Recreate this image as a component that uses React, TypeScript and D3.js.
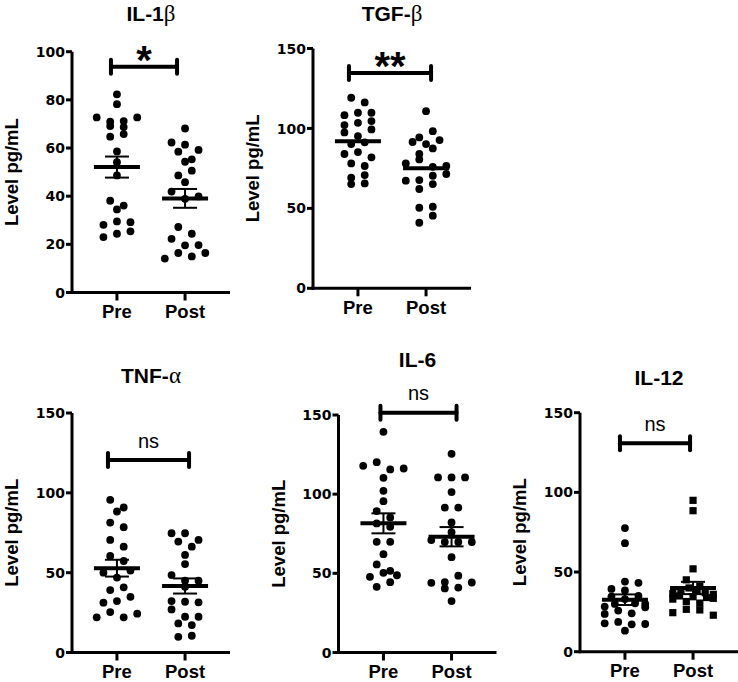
import React from 'react';
import * as d3 from 'd3';

// ---------- data ----------
const groups = ['Pre', 'Post'];

const il1bPre = [82.3, 78.2, 72.7, 70.9, 71.2, 72.7, 69.1, 64.7, 65.8, 68.7, 58.6, 54.1, 48.6, 38.1, 36.1, 34.5, 28.1, 29.5, 29.2, 23.0, 24.4, 25.4];
const il1bPost = [68.1, 62.3, 61.4, 58.5, 59.2, 54.3, 55.3, 48.6, 50.6, 45.8, 41.9, 38.9, 39.9, 27.2, 22.3, 24.4, 19.6, 19.7, 14.1, 16.4, 15.0, 16.4];

const tgfbPre = [119.2, 116.3, 108.3, 109.8, 109.8, 102.1, 103.5, 104.6, 97.5, 95.2, 99.4, 90.2, 91.3, 84.0, 85.2, 81.9, 78.1, 76.5, 69.2, 70.8, 65.2, 65.6];
const tgfbPost = [110.8, 94.4, 98.3, 91.5, 90.2, 92.7, 84.0, 87.5, 78.1, 80.6, 76.0, 76.5, 67.3, 67.7, 70.4, 71.5, 62.1, 65.2, 50.4, 51.0, 41.0, 45.4];

const tnfaPre = [95.6, 88.3, 90.8, 81.4, 78.5, 70.5, 66.3, 60.5, 57.3, 50.0, 46.9, 51.3, 39.1, 40.8, 31.2, 32.2, 34.9, 22.0, 25.3, 22.0, 24.3];
const tnfaPost = [74.7, 74.7, 70.5, 69.5, 66.3, 61.1, 55.4, 48.5, 45.0, 41.2, 45.0, 32.2, 31.8, 31.4, 27.0, 18.2, 22.4, 22.4, 17.2, 9.8, 10.5];

const il6Pre = [139.4, 117.9, 120.2, 115.6, 116.2, 110.3, 102.1, 95.6, 89.3, 85.3, 81.5, 79.4, 69.9, 69.9, 62.1, 55.6, 47.8, 51.6, 50.3, 48.8, 41.5, 44.4];
const il6Post = [125.5, 110.6, 110.6, 110.6, 101.3, 91.5, 91.5, 82.1, 76.0, 71.0, 69.8, 69.8, 69.8, 60.2, 44.0, 44.5, 48.5, 44.2, 40.5, 41.0, 32.5];

const il12Pre = [77.6, 68.1, 39.4, 44.0, 43.2, 34.6, 38.4, 35.0, 28.3, 30.0, 33.0, 30.4, 30.0, 23.7, 25.8, 24.1, 27.9, 17.8, 18.7, 17.2, 17.4, 13.2];
const il12Post = [95.0, 88.5, 52.0, 45.1, 41.0, 36.5, 38.0, 40.0, 38.5, 37.0, 36.0, 33.0, 35.0, 31.5, 34.5, 30.5, 34.0, 33.5, 24.5, 26.6, 26.2, 22.9];

const ticks100 = [0, 20, 40, 60, 80, 100];
const ticks150 = [0, 50, 100, 150];
const yLabel = 'Level pg/mL';
const titles = ['IL-1', 'TGF-', 'TNF-', 'IL-6', 'IL-12'];
const greek = ['β', 'β', 'α', '', ''];
const sigLabels = ['*', '**', 'ns', 'ns', 'ns'];

// ---------- layout ----------
const panels = [
  { i: 0, pre: il1bPre, post: il1bPost, ticks: ticks100, axisX: 72, yTop: 51.7, yBottom: 292.5, titleY: 21, barVal: 93.8, barDx: [-6, -8], sem: true, square: false },
  { i: 1, pre: tgfbPre, post: tgfbPost, ticks: ticks150, axisX: 313, yTop: 48.5, yBottom: 288.3, titleY: 21, barVal: 134.7, barDx: [-9, 5], sem: false, square: false },
  { i: 2, pre: tnfaPre, post: tnfaPost, ticks: ticks150, axisX: 72, yTop: 413, yBottom: 652.5, titleY: 383, barVal: 120.5, barDx: [-9, 4], sem: true, square: false },
  { i: 3, pre: il6Pre, post: il6Post, ticks: ticks150, axisX: 338.5, yTop: 415, yBottom: 652.5, titleY: 367, barVal: 151.5, barDx: [-3, 5], sem: true, square: false },
  { i: 4, pre: il12Pre, post: il12Post, ticks: ticks150, axisX: 580, yTop: 412.7, yBottom: 651.7, titleY: 385, barVal: 130.8, barDx: [-5, -3], sem: true, square: true },
];

const SANS = '"Liberation Sans", Arial, sans-serif';
const NUM = '"DejaVu Sans", sans-serif';
const SERIF = '"Liberation Serif", "DejaVu Serif", serif';

// GraphPad-like row scatter: nearby values share a row, centred on the column
function swarm(values: number[], y: (v: number) => number, H = 7.8, W = 13.5, maxSpan = 40.5) {
  const order = values.map((_, k) => k).sort((a, b) => values[b] - values[a]);
  const off = new Array(values.length).fill(0);
  let i = 0;
  while (i < order.length) {
    const start = y(values[order[i]]);
    let j = i + 1;
    while (j < order.length && y(values[order[j]]) - start < H) j++;
    const row = order.slice(i, j).sort((a, b) => a - b);
    const n = row.length;
    const step = n > 1 ? Math.min(W, maxSpan / (n - 1)) : 0;
    row.forEach((k, m) => { off[k] = (m - (n - 1) / 2) * step; });
    i = j;
  }
  return off;
}

function PanelView({ p }: { p: typeof panels[number] }) {
  const max = p.ticks[p.ticks.length - 1];
  const y = d3.scaleLinear().domain([0, max]).range([p.yBottom, p.yTop]);
  const xLen = 158;
  const x = d3.scalePoint<string>().domain(groups).range([p.axisX, p.axisX + xLen]).padding(0.66);
  const series = [p.pre, p.post];
  const barY = y(p.barVal);
  const bx0 = (x('Pre') as number) + p.barDx[0];
  const bx1 = (x('Post') as number) + p.barDx[1];
  const cx = p.axisX + 79;
  const sig = sigLabels[p.i];
  const isStar = sig.includes('*');
  return (
    <g>
      {/* title */}
      <text x={cx} y={p.titleY} textAnchor="middle" fontFamily={SANS} fontWeight="bold" fontSize={21}>
        {titles[p.i]}
        {greek[p.i] ? <tspan fontFamily={SERIF} fontWeight="normal" fontSize={23}>{greek[p.i]}</tspan> : null}
      </text>
      {/* y label */}
      <text transform={`translate(${p.axisX - 54},${(p.yTop + p.yBottom) / 2}) rotate(-90)`} textAnchor="middle"
        fontFamily={SANS} fontWeight="bold" fontSize={18.5}>{yLabel}</text>
      {/* data */}
      {series.map((vals, gi) => {
        const off = swarm(vals, y);
        const c = x(groups[gi]) as number;
        return (
          <g key={gi}>
            {vals.map((v, k) =>
              p.square && gi === 1 ? (
                <rect key={k} x={c + off[k] - 3.6} y={y(v) - 3.6} width={7.2} height={7.2} fill="#000" />
              ) : (
                <circle key={k} cx={c + off[k]} cy={y(v)} r={3.9} fill="#000" />
              )
            )}
          </g>
        );
      })}
      {/* mean +- SEM */}
      {series.map((vals, gi) => {
        const c = x(groups[gi]) as number;
        const m = d3.mean(vals) as number;
        const sem = (d3.deviation(vals) as number) / Math.sqrt(vals.length);
        return (
          <g key={'m' + gi} stroke="#000">
            {p.sem ? (
              <g strokeWidth={2}>
                <line x1={c} x2={c} y1={y(m + sem)} y2={y(m - sem)} />
                <line x1={c - 12} x2={c + 12} y1={y(m + sem)} y2={y(m + sem)} />
                <line x1={c - 12} x2={c + 12} y1={y(m - sem)} y2={y(m - sem)} />
              </g>
            ) : null}
            <line x1={c - 23} x2={c + 23} y1={y(m)} y2={y(m)} strokeWidth={4} />
          </g>
        );
      })}
      {/* axes */}
      <g stroke="#000" strokeWidth={3}>
        <line x1={p.axisX} x2={p.axisX} y1={p.yTop} y2={p.yBottom + 1.5} />
        <line x1={p.axisX - 1.5} x2={p.axisX + xLen} y1={p.yBottom} y2={p.yBottom} />
        {p.ticks.map((t) => (
          <line key={t} x1={p.axisX - 6} x2={p.axisX} y1={y(t)} y2={y(t)} />
        ))}
        {groups.map((g) => (
          <line key={g} x1={x(g) as number} x2={x(g) as number} y1={p.yBottom} y2={p.yBottom + 8} />
        ))}
      </g>
      {p.ticks.map((t) => (
        <text key={t} x={p.axisX - 7} y={y(t) + 5.1} textAnchor="end" fontFamily={NUM} fontWeight="bold" fontSize={14}>{t}</text>
      ))}
      {groups.map((g) => (
        <text key={g} x={x(g) as number} y={p.yBottom + 25.5} textAnchor="middle" fontFamily={SANS} fontWeight="bold" fontSize={18.5}>{g}</text>
      ))}
      {/* significance bar */}
      <g stroke="#000" strokeLinecap="round">
        <line x1={bx0} x2={bx1} y1={barY} y2={barY} strokeWidth={4} />
        <line x1={bx0} x2={bx0} y1={barY - 7} y2={barY + 7} strokeWidth={4} />
        <line x1={bx1} x2={bx1} y1={barY - 7} y2={barY + 7} strokeWidth={4} />
      </g>
      {isStar ? (
        <text x={(bx0 + bx1) / 2} y={barY + 7} textAnchor="middle" fontFamily={SANS} fontWeight="bold" fontSize={40}>{sig}</text>
      ) : (
        <text x={(bx0 + bx1) / 2} y={barY - 12.5} textAnchor="middle" fontFamily={SANS} fontSize={20}>{sig}</text>
      )}
    </g>
  );
}

export default function App() {
  return (
    <>
      <style>{`body{margin:0;background:#fff}`}</style>
      <svg width={738} height={682} viewBox="0 0 738 682" style={{ display: 'block', background: '#fff' }}>
        {panels.map((p) => (
          <PanelView key={p.i} p={p} />
        ))}
      </svg>
    </>
  );
}
